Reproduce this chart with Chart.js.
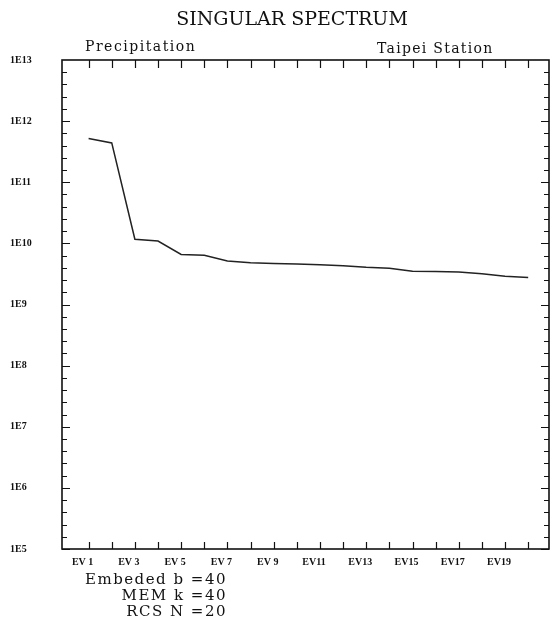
<!DOCTYPE html>
<html>
<head>
<meta charset="utf-8">
<title>Singular Spectrum - Taipei Station</title>
<script src="https://cdn.jsdelivr.net/npm/chart.js@4.4.1/dist/chart.umd.min.js"></script>
<style>
  html, body { margin: 0; padding: 0; background: #fff; }
  #wrap { position: relative; width: 553px; height: 621px; overflow: hidden; }
  #spectrum { position: absolute; left: 0; top: 0; }
  .txt {
    position: absolute;
    font-family: "DejaVu Serif", serif;
    color: #111;
    white-space: nowrap;
    line-height: 1;
  }
  #title { left: 292px; top: 9px; font-size: 19px; transform: translateX(-50%); }
  #variable { left: 85px; top: 39px; font-size: 14px; letter-spacing: 1.5px; }
  #station { left: 377px; top: 41px; font-size: 14px; letter-spacing: 1.3px; }
  .param { right: 326px; font-size: 15px; letter-spacing: 1.5px; text-align: right; }
</style>
</head>
<body>
<div id="wrap">
  <canvas id="spectrum" width="553" height="621"></canvas>
  <div class="txt" id="title">SINGULAR SPECTRUM</div>
  <div class="txt" id="variable">Precipitation</div>
  <div class="txt" id="station">Taipei Station</div>
  <div class="txt param" style="top:572px">Embeded b =40</div>
  <div class="txt param" style="top:588px">MEM k =40</div>
  <div class="txt param" style="top:604px">RCS N =20</div>
</div>
<script>
// eigenvalue index labels, EV 1 .. EV20
const evLabels = ['EV 1', 'EV 2', 'EV 3', 'EV 4', 'EV 5', 'EV 6', 'EV 7', 'EV 8', 'EV 9', 'EV10',
                  'EV11', 'EV12', 'EV13', 'EV14', 'EV15', 'EV16', 'EV17', 'EV18', 'EV19', 'EV20'];
// eigenvalues of the lag-covariance matrix
const eigenvalues = [5.2e11, 4.4e11, 1.17e10, 1.09e10, 6.6e9, 6.4e9, 5.15e9, 4.8e9, 4.7e9, 4.6e9,
                     4.47e9, 4.32e9, 4.07e9, 3.92e9, 3.5e9, 3.46e9, 3.41e9, 3.19e9, 2.9e9, 2.76e9];
// only every other index gets a label
const labelledEV = [1, 3, 5, 7, 9, 11, 13, 15, 17, 19];
const decadeTicks = [1e5, 1e6, 1e7, 1e8, 1e9, 1e10, 1e11, 1e12, 1e13];
const decadeLabels = ['1E5', '1E6', '1E7', '1E8', '1E9', '1E10', '1E11', '1E12', '1E13'];

const tickFont = { family: '"Liberation Serif", serif', size: 10, weight: 'bold' };
const ink = '#111';

// box around the plot with inward tick marks on all four sides
const frameTicks = {
  id: 'frameTicks',
  afterDatasetsDraw(chart) {
    const { ctx, chartArea: a, scales: { x, y } } = chart;
    ctx.save();
    ctx.strokeStyle = ink;
    ctx.lineWidth = 1.2;
    ctx.beginPath();
    evLabels.forEach((_, i) => {
      const px = Math.round(x.getPixelForValue(i + 1)) + 0.5;
      ctx.moveTo(px, a.top); ctx.lineTo(px, a.top + 8);
      ctx.moveTo(px, a.bottom); ctx.lineTo(px, a.bottom - 7);
    });
    for (let e = 5; e < 13; e++) {
      for (let k = 0; k < 5; k++) {
        const py = Math.round(y.getPixelForValue(Math.pow(10, e + k / 5))) + 0.5;
        const len = k === 0 ? 8 : 5;
        ctx.moveTo(a.left, py); ctx.lineTo(a.left + len, py);
        ctx.moveTo(a.right, py); ctx.lineTo(a.right - len, py);
      }
    }
    ctx.stroke();
    ctx.lineWidth = 1.6;
    ctx.strokeRect(a.left, a.top, a.right - a.left, a.bottom - a.top);
    ctx.restore();
  }
};

new Chart(document.getElementById('spectrum'), {
  type: 'line',
  data: {
    datasets: [{
      data: eigenvalues.map((v, i) => ({ x: i + 1, y: v })),
      borderColor: '#222',
      borderWidth: 1.5,
      pointRadius: 0,
      tension: 0,
      fill: false
    }]
  },
  options: {
    responsive: false,
    animation: false,
    layout: { padding: { left: 10, right: 4, top: 60, bottom: 0 } },
    plugins: {
      legend: { display: false },
      tooltip: { enabled: false }
    },
    scales: {
      x: {
        type: 'linear',
        min: -0.15,
        max: 20.9,
        grid: { display: false, drawTicks: false },
        border: { display: false },
        afterBuildTicks: (scale) => { scale.ticks = labelledEV.map(v => ({ value: v })); },
        afterFit: (scale) => { scale.height = 72; },
        ticks: {
          autoSkip: false,
          maxRotation: 0,
          padding: 7,
          labelOffset: -6,
          color: ink,
          font: tickFont,
          callback: (v) => evLabels[v - 1]
        }
      },
      y: {
        type: 'logarithmic',
        min: 1e5,
        max: 1e13,
        grid: { display: false, drawTicks: false },
        border: { display: false },
        afterBuildTicks: (scale) => { scale.ticks = decadeTicks.map(v => ({ value: v })); },
        afterFit: (scale) => { scale.width = 52; },
        ticks: {
          crossAlign: 'far',
          padding: 0,
          color: ink,
          font: tickFont,
          callback: (v) => decadeLabels[decadeTicks.indexOf(v)]
        }
      }
    }
  },
  plugins: [frameTicks]
});
</script>
</body>
</html>
